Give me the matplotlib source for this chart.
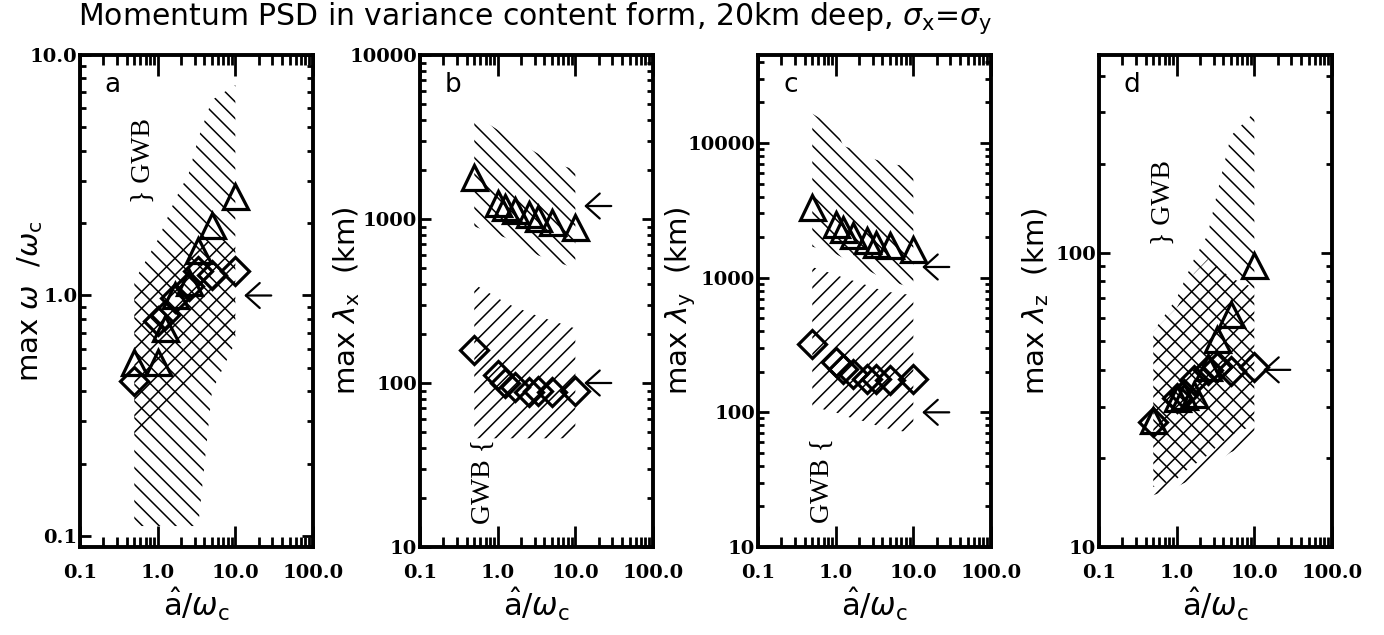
import numpy as np
import matplotlib.pyplot as plt
from matplotlib.ticker import FixedLocator, FixedFormatter, LogLocator, NullFormatter

plt.rcParams['hatch.linewidth'] = 1.1
plt.rcParams['mathtext.fontset'] = 'dejavusans'

# a-hat / omega_c values of the runs
ratio = [0.5, 1.0, 1.25, 1.67, 2.5, 3.33, 5.0, 10.0]

# panel a: max omega / omega_c
a_tri = [0.53, 0.53, 0.73, 1.0, 1.14, 1.55, 1.97, 2.6]
a_dia = [0.44, 0.78, 0.83, 0.98, 1.1, 1.26, 1.22, 1.26]
a_tri_lo = [0.11, 0.11, 0.11, 0.11, 0.11, 0.11, 0.40, 0.64]
a_tri_hi = [1.15, 1.7, 2.0, 2.5, 3.2, 4.5, 6.5, 7.5]
a_dia_lo = [0.24, 0.30, 0.32, 0.36, 0.41, 0.45, 0.51, 0.64]
a_dia_hi = [1.08, 1.35, 1.45, 1.6, 1.67, 1.67, 1.67, 1.67]

# panel b: max lambda_x (km)
b_tri = [1800, 1250, 1190, 1130, 1080, 1010, 960, 900]
b_dia = [160, 112, 100, 95, 88, 90, 88, 90]
b_tri_lo = [900, 800, 770, 720, 650, 600, 560, 500]
b_tri_hi = [4300, 3500, 3300, 3000, 2700, 2500, 2200, 2000]
b_dia_lo = [46, 46, 46, 46, 46, 46, 46, 46]
b_dia_hi = [400, 330, 310, 290, 270, 255, 240, 215]

# panel c: max lambda_y (km)
c_tri = [3340, 2520, 2310, 2060, 1890, 1790, 1740, 1640]
c_dia = [324, 236, 211, 194, 178, 178, 173, 178]
c_tri_lo = [1700, 1500, 1400, 1300, 1150, 1050, 950, 830]
c_tri_hi = [16500, 13000, 9500, 9000, 8000, 7500, 7000, 6600]
c_dia_lo = [110, 100, 95, 90, 85, 80, 75, 70]
c_dia_hi = [1200, 1050, 1000, 950, 880, 830, 780, 740]

# panel d: max lambda_z (km)
d_tri = [27, 32, 32.5, 33, 41, 51, 62, 91]
d_dia = [26.7, 32, 33, 37, 40, 41, 39.5, 41]
d_tri_lo = [16, 17, 18, 19, 20.5, 22, 24, 26]
d_tri_hi = [54, 70, 80, 95, 115, 160, 250, 300]
d_dia_lo = [15, 16, 16.5, 17, 18.5, 19.5, 21, 22.5]
d_dia_hi = [54, 65, 72, 85, 95, 90, 82, 76]

# arrows (reference values)
arrows = [[1.0], [1200, 100], [1200, 100], [40]]

xticks = [0.1, 1, 10, 100]
xticklabels = ['0.1', '1.0', '10.0', '100.0']
panels = ['a', 'b', 'c', 'd']
ylabels = [r'max $\omega$  /$\omega_{\rm c}$', r'max $\lambda_{\rm x}$  (km)',
           r'max $\lambda_{\rm y}$  (km)', r'max $\lambda_{\rm z}$  (km)']
ylims = [(0.09, 10), (10, 10000), (10, 45000), (10, 470)]
yticks = [[0.1, 1, 10], [10, 100, 1000, 10000], [10, 100, 1000, 10000], [10, 100]]
yticklabels = [['0.1', '1.0', '10.0'], ['10', '100', '1000', '10000'],
               ['10', '100', '1000', '10000'], ['10', '100']]
gwb_text = ['} GWB', 'GWB {', 'GWB {', '} GWB']
gwb_pos = [(0.65, 3.65), (0.65, 25), (0.68, 31), (0.67, 148)]

tri = [a_tri, b_tri, c_tri, d_tri]
dia = [a_dia, b_dia, c_dia, d_dia]
tri_lo = [a_tri_lo, b_tri_lo, c_tri_lo, d_tri_lo]
tri_hi = [a_tri_hi, b_tri_hi, c_tri_hi, d_tri_hi]
dia_lo = [a_dia_lo, b_dia_lo, c_dia_lo, d_dia_lo]
dia_hi = [a_dia_hi, b_dia_hi, c_dia_hi, d_dia_hi]

fig = plt.figure(figsize=(13.84, 6.35), dpi=100)
lefts = [80, 420, 758, 1099]
ylab_x = [-0.215, -0.315, -0.33, -0.27]

for i in range(4):
    ax = fig.add_axes([lefts[i] / 1384, 88 / 635, 233 / 1384, 492 / 635])
    ax.set_xscale('log')
    ax.set_yscale('log')

    ax.fill_between(ratio, tri_lo[i], tri_hi[i], facecolor='none', edgecolor='k',
                    hatch='\\\\', linewidth=0)
    ax.fill_between(ratio, dia_lo[i], dia_hi[i], facecolor='none', edgecolor='k',
                    hatch='//', linewidth=0)

    ax.plot(ratio, tri[i], ls='none', marker='^', ms=18, mfc='none', mec='k', mew=2.3)
    ax.plot(ratio, dia[i], ls='none', marker='D', ms=14, mfc='none', mec='k', mew=2.3)

    for yv in arrows[i]:
        ax.annotate('', xy=(13, yv), xytext=(29, yv),
                    arrowprops=dict(arrowstyle='->,head_length=0.5,head_width=0.45',
                                    lw=1.6, color='k', mutation_scale=20,
                                    shrinkA=0, shrinkB=0))

    ax.text(gwb_pos[i][0], gwb_pos[i][1], gwb_text[i], rotation=90, ha='center',
            va='center', fontsize=20, family='Liberation Serif')
    ax.text(0.14, 0.94, panels[i], transform=ax.transAxes, fontsize=19,
            ha='center', va='center')

    ax.set_xlim(0.1, 100)
    ax.set_ylim(*ylims[i])
    ax.xaxis.set_major_locator(FixedLocator(xticks))
    ax.xaxis.set_major_formatter(FixedFormatter(xticklabels))
    ax.xaxis.set_minor_locator(LogLocator(base=10, subs=np.arange(2, 10)))
    ax.xaxis.set_minor_formatter(NullFormatter())
    ax.yaxis.set_major_locator(FixedLocator(yticks[i]))
    ax.yaxis.set_major_formatter(FixedFormatter(yticklabels[i]))
    ax.yaxis.set_minor_locator(LogLocator(base=10, subs=np.arange(2, 10)))
    ax.yaxis.set_minor_formatter(NullFormatter())

    ax.tick_params(axis='x', which='major', direction='in', length=15, width=2,
                   top=True, pad=12)
    ax.tick_params(axis='x', which='minor', direction='in', length=7, width=2, top=True)
    ax.tick_params(axis='y', which='major', direction='in', length=8, width=2,
                   right=True, pad=2)
    ax.tick_params(axis='y', which='minor', direction='in', length=4, width=2, right=True)
    for lab in ax.get_xticklabels() + ax.get_yticklabels():
        lab.set_family('DejaVu Serif')
        lab.set_fontweight('bold')
        lab.set_fontsize(14)
    for sp in ax.spines.values():
        sp.set_linewidth(2.8)

    ax.set_xlabel(r'$\hat{\rm a}/\omega_{\rm c}$', fontsize=22, labelpad=3)
    ax.set_ylabel(ylabels[i], fontsize=21)
    ax.yaxis.label.set_va('center')
    ax.yaxis.set_label_coords(ylab_x[i], 0.5)

fig.text(78 / 1384, 1 - 18 / 635,
         r'Momentum PSD in variance content form, 20km deep, $\sigma_{\rm x}$=$\sigma_{\rm y}$',
         fontsize=21.5, ha='left', va='center')

fig.savefig('out.png', dpi=100)
